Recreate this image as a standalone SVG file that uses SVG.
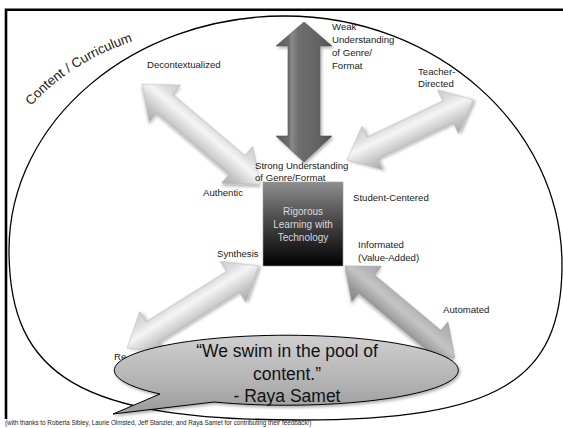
<svg xmlns="http://www.w3.org/2000/svg" width="563" height="428" viewBox="0 0 563 428">
<style>
.lbl{font-family:"Liberation Sans",Arial,sans-serif;font-size:9.6px;fill:#1a1a1a}
.cc{font-family:"Liberation Sans",Arial,sans-serif;font-size:13.3px;fill:#1a1a1a}
.box{font-family:"Liberation Sans",Arial,sans-serif;font-size:10px;fill:#dadada;text-anchor:middle}
.quote{font-family:"Liberation Sans",Arial,sans-serif;font-size:17.5px;fill:#111;text-anchor:middle}
.foot{font-family:"Liberation Sans",Arial,sans-serif;font-size:6.3px;fill:#222}
.light{fill:url(#gLight);stroke:#a8a8a8;stroke-width:0.6;filter:url(#sh)}
</style>
<defs>
<filter id="sh" x="-20%" y="-20%" width="140%" height="140%">
<feDropShadow dx="1.5" dy="2" stdDeviation="1.5" flood-color="#000" flood-opacity="0.3"/>
</filter>
<linearGradient id="gLight" x1="0" y1="0" x2="0" y2="1">
<stop offset="0" stop-color="#cdcdcd"/>
<stop offset="0.25" stop-color="#dedede"/>
<stop offset="0.42" stop-color="#f5f5f5"/>
<stop offset="0.75" stop-color="#c6c6c6"/>
<stop offset="1" stop-color="#a9a9a9"/>
</linearGradient>
<linearGradient id="gMid" x1="0" y1="0" x2="0" y2="1">
<stop offset="0" stop-color="#a8a8a8"/>
<stop offset="0.25" stop-color="#b5b5b5"/>
<stop offset="0.45" stop-color="#c4c4c4"/>
<stop offset="0.75" stop-color="#999999"/>
<stop offset="1" stop-color="#858585"/>
</linearGradient>
<linearGradient id="gDark" x1="0" y1="0" x2="1" y2="0">
<stop offset="0" stop-color="#5c5c5c"/>
<stop offset="0.22" stop-color="#6a6a6a"/>
<stop offset="0.28" stop-color="#8a8a8a"/>
<stop offset="0.4" stop-color="#6e6e6e"/>
<stop offset="0.78" stop-color="#626262"/>
<stop offset="1" stop-color="#505050"/>
</linearGradient>
<linearGradient id="gBox" x1="0" y1="0" x2="0" y2="1">
<stop offset="0" stop-color="#8e8e8e"/>
<stop offset="0.45" stop-color="#4a4a4a"/>
<stop offset="1" stop-color="#000000"/>
</linearGradient>
<linearGradient id="gBub" x1="0" y1="0" x2="0" y2="1">
<stop offset="0" stop-color="#cfcfcf"/>
<stop offset="0.6" stop-color="#b3b3b3"/>
<stop offset="1" stop-color="#9a9a9a"/>
</linearGradient>
<path id="ccPath" d="M 31,106 Q 74,58 146,37"/>
</defs>

<rect width="563" height="428" fill="#ffffff"/>

<!-- frame -->
<path d="M 6,419 L 6,9.7 L 563,9.7" fill="none" stroke="#000" stroke-width="2.6"/>

<!-- content ellipse -->
<g id="content-curriculum">
<path d="M 285,16 C 437,16 562,128 562,265 C 562,381 497,420 300,420 C 82,420 9,377 9,250 C 9,121 133,16 285,16 Z" fill="none" stroke="#000" stroke-width="1.3"/>
<text class="cc"><textPath href="#ccPath">Content / Curriculum</textPath></text>
</g>

<!-- connectors (double arrows) -->
<g id="connectors">
<polygon id="arrow-vertical" points="304,22 332,46 320,46 320,136 332,136 304,162 276,136 288,136 288,46 276,46" fill="url(#gDark)" stroke="#555" stroke-width="0.6" filter="url(#sh)"/>
<polygon id="arrow-upper-left" class="light" transform="translate(142,84) rotate(40.3)" points="0,0 30,-24 30,-12 125,-12 125,-24 155,0 125,24 125,12 30,12 30,24"/>
<polygon id="arrow-upper-right" class="light" transform="translate(347,160) rotate(-25.5)" points="0,0 28,-24 28,-12 112,-12 112,-24 140,0 112,24 112,12 28,12 28,24"/>
<polygon id="arrow-lower-left" class="light" transform="translate(127,348) rotate(-32)" points="0,0 30,-24 30,-12 125,-12 125,-24 155,0 125,24 125,12 30,12 30,24"/>
<polygon id="arrow-lower-right" transform="translate(345,266) rotate(39.9)" points="0,0 28,-23 28,-12 115,-12 115,-23 143,0 115,23 115,12 28,12 28,23" fill="url(#gMid)" stroke="#888" stroke-width="0.6" filter="url(#sh)"/>
</g>

<!-- center node -->
<g id="node-center">
<rect x="263" y="182" width="80" height="84" fill="url(#gBox)" stroke="#9a9a9a" stroke-width="0.6"/>
<text class="box" x="303" y="215">Rigorous</text>
<text class="box" x="303" y="228">Learning with</text>
<text class="box" x="303" y="241">Technology</text>
</g>

<!-- labels -->
<g id="node-decontextualized"><text class="lbl" x="147" y="68">Decontextualized</text></g>
<g id="node-weak">
<text class="lbl" x="332" y="30">Weak</text>
<text class="lbl" x="332" y="43">Understanding</text>
<text class="lbl" x="332" y="56">of Genre/</text>
<text class="lbl" x="332" y="68.5">Format</text>
</g>
<g id="node-teacher">
<text class="lbl" x="418" y="75">Teacher-</text>
<text class="lbl" x="418" y="87">Directed</text>
</g>
<g id="node-strong">
<text class="lbl" x="255" y="168.5">Strong Understanding</text>
<text class="lbl" x="255" y="180.5">of Genre/Format</text>
</g>
<g id="node-authentic"><text class="lbl" x="203" y="196">Authentic</text></g>
<g id="node-student"><text class="lbl" x="353" y="201">Student-Centered</text></g>
<g id="node-synthesis"><text class="lbl" x="217" y="257">Synthesis</text></g>
<g id="node-informated">
<text class="lbl" x="358" y="248">Informated</text>
<text class="lbl" x="358" y="261">(Value-Added)</text>
</g>
<g id="node-automated"><text class="lbl" x="443" y="313">Automated</text></g>
<g id="node-re"><text class="lbl" x="114" y="360">Re</text></g>

<!-- speech bubble -->
<g id="node-quote">
<path d="M 160,394 L 113,414 L 214,402 A 172 35 0 1 0 160,394 Z" fill="url(#gBub)" stroke="#000" stroke-width="1" filter="url(#sh)"/>
<text class="quote" x="287" y="357">“We swim in the pool of</text>
<text class="quote" x="287" y="380">content.”</text>
<text class="quote" x="287" y="402">- Raya Samet</text>
</g>

<!-- footer -->
<text class="foot" x="5" y="425">(with thanks to Roberta Sibley, Laurie Olmsted, Jeff Stanzler, and Raya Samet for contributing their feedback!)</text>
</svg>
